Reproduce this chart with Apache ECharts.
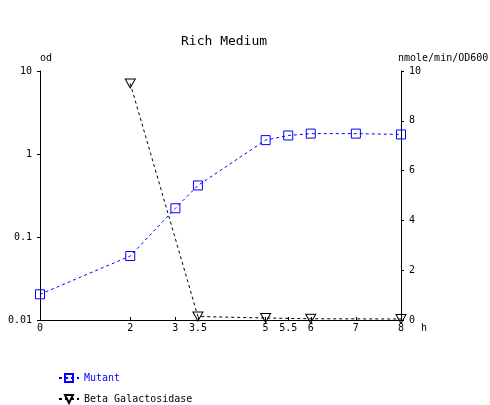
<!DOCTYPE html>
<html>
<head>
<meta charset="utf-8">
<script src="https://cdn.jsdelivr.net/npm/echarts@6/dist/echarts.min.js"></script>
<style>html,body{margin:0;padding:0;background:#fff}#c{width:490px;height:405px}</style>
</head>
<body>
<div id="c"></div>
<script>
var xTicks = [0, 2, 3, 3.5, 5, 5.5, 6, 7, 8];
var mutantX = [0, 2, 3, 3.5, 5, 5.5, 6, 7, 8];
var mutantOD = [0.0204, 0.059, 0.222, 0.418, 1.47, 1.67, 1.76, 1.76, 1.72];
var betaX = [2, 3.5, 5, 6, 8];
var betaActivity = [9.5, 0.14, 0.08, 0.05, 0.04];
var rightTicks = [0, 2, 4, 6, 8, 10];

var font = 'DejaVu Sans Mono';
var chart = echarts.init(document.getElementById('c'), null, {renderer: 'canvas'});
function zip(xs, ys) { return xs.map(function (x, i) { return [x, ys[i]]; }); }
var axisCommon = {
  axisLine: {show: true, lineStyle: {color: '#000', width: 1}},
  axisTick: {show: true, length: 3, lineStyle: {color: '#000'}},
  axisLabel: {color: '#000', fontFamily: font, fontSize: 10},
  splitLine: {show: false},
  nameTextStyle: {color: '#000', fontFamily: font, fontSize: 10}
};
chart.setOption({
  animation: false,
  backgroundColor: '#fff',
  title: {
    text: 'Rich Medium', left: 176, top: 30,
    textStyle: {fontFamily: font, fontSize: 13, fontWeight: 'normal', color: '#000'}
  },
  grid: {left: 40, right: 89, top: 71, bottom: 85, containLabel: false, outerBoundsMode: 'none'},
  legend: {
    orient: 'vertical', left: 58, top: 373, height: 40, padding: 0, itemGap: 11, itemWidth: 20, itemHeight: 10,
    textStyle: {fontFamily: font, fontSize: 10, color: '#000'},
    data: [
      {name: 'Mutant', textStyle: {color: '#0000ff'}},
      {name: 'Beta Galactosidase', textStyle: {color: '#000'}}
    ]
  },
  xAxis: Object.assign({}, axisCommon, {
    type: 'value', min: 0, max: 8, name: 'h', nameLocation: 'end', nameGap: 19,
    nameTextStyle: {color: '#000', fontFamily: font, fontSize: 10, verticalAlign: 'top', padding: [3, 0, 0, 0]},
    axisTick: {show: true, inside: true, length: 3, lineStyle: {color: '#000'}, customValues: xTicks},
    axisLabel: {color: '#000', fontFamily: font, fontSize: 10, margin: 3, customValues: xTicks,
      formatter: function (v) { return String(v); }}
  }),
  yAxis: [
    Object.assign({}, axisCommon, {
      type: 'log', logBase: 10, min: 0.01, max: 10, position: 'left', name: 'od', nameGap: 8,
      nameTextStyle: {color: '#000', fontFamily: font, fontSize: 10, align: 'left'},
      axisLabel: {color: '#000', fontFamily: font, fontSize: 10, margin: 8,
        formatter: function (v) { return String(parseFloat(Number(v).toPrecision(6))); }},
      minorTick: {show: false}
    }),
    Object.assign({}, axisCommon, {
      type: 'value', min: 0, max: 10, interval: 2, position: 'right', name: 'nmole/min/OD600', nameGap: 8,
      nameTextStyle: {color: '#000', fontFamily: font, fontSize: 10, align: 'left', padding: [0, 0, 0, -3]},
      axisLabel: {color: '#000', fontFamily: font, fontSize: 10, margin: 8}
    })
  ],
  series: [
    {
      name: 'Mutant', type: 'line', xAxisIndex: 0, yAxisIndex: 0,
      data: zip(mutantX, mutantOD),
      symbol: 'rect', symbolSize: 9,
      itemStyle: {color: 'rgba(0,0,0,0)', borderColor: '#0000ff', borderWidth: 1},
      lineStyle: {color: '#0000ff', width: 1, type: [3, 3]},
      emphasis: {disabled: true}
    },
    {
      name: 'Beta Galactosidase', type: 'line', xAxisIndex: 0, yAxisIndex: 1,
      data: zip(betaX, betaActivity),
      symbol: 'triangle', symbolRotate: 180, symbolSize: [10, 9],
      itemStyle: {color: 'rgba(0,0,0,0)', borderColor: '#000', borderWidth: 1},
      lineStyle: {color: '#000', width: 1, type: [3, 3]},
      emphasis: {disabled: true}
    }
  ]
});
</script>
</body>
</html>
